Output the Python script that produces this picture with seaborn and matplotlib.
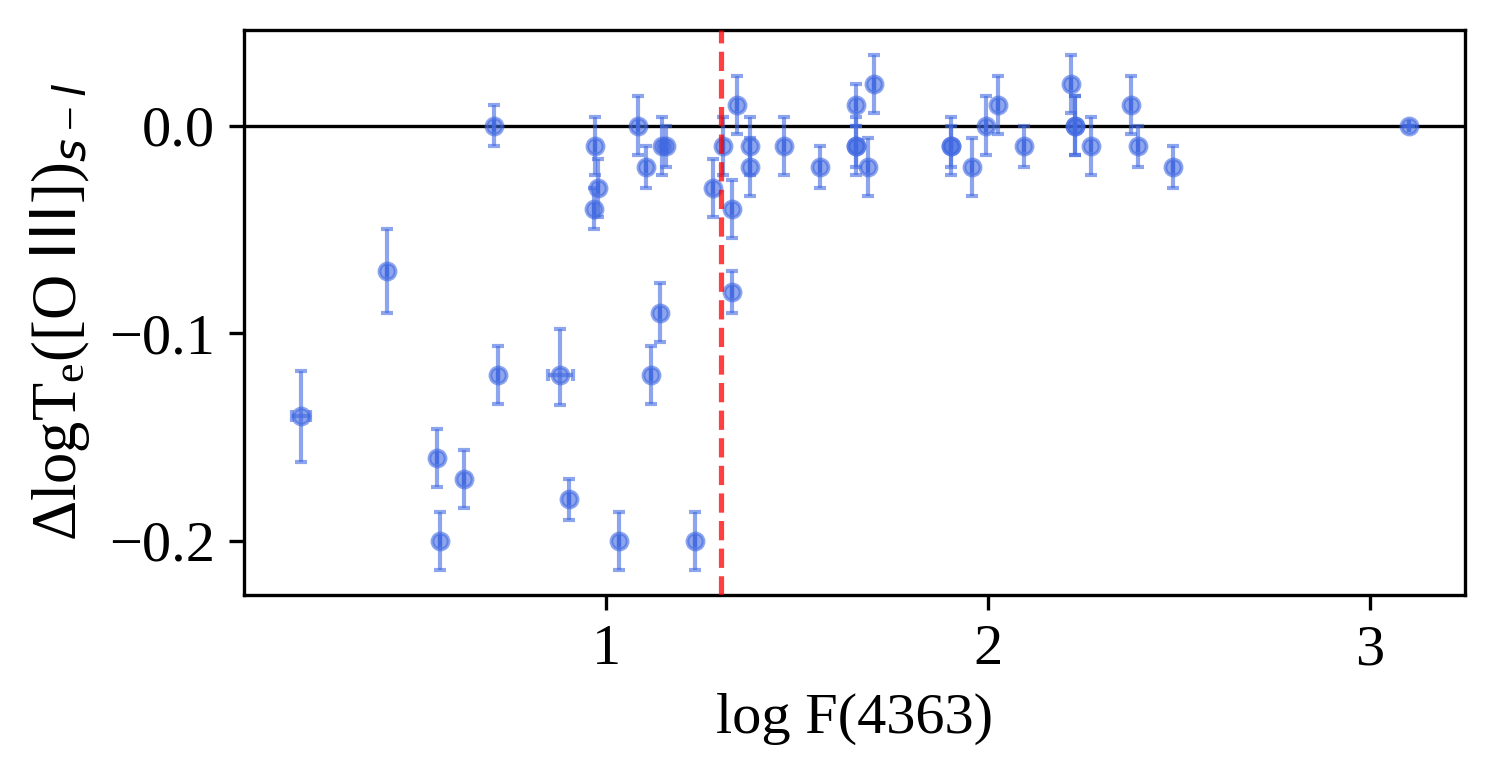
import numpy as np
import pandas as pd
import matplotlib
matplotlib.use("Agg")
import matplotlib.pyplot as plt
import seaborn as sns

# Measured points: log F(4363) vs. Delta log Te([O III]) (s - l)
log_f4363 = [0.200, 0.424, 0.557, 0.565, 0.627, 0.706, 0.716, 0.879, 0.903, 0.967,
             0.971, 0.978, 1.034, 1.082, 1.103, 1.118, 1.139, 1.146, 1.156, 1.233,
             1.278, 1.305, 1.328, 1.330, 1.342, 1.377, 1.376, 1.466, 1.559, 1.653,
             1.653, 1.654, 1.685, 1.701, 1.904, 1.904, 1.959, 1.994, 2.025, 2.093,
             2.217, 2.228, 2.228, 2.269, 2.374, 2.394, 2.486, 3.103]
delta_te = [-0.140, -0.070, -0.160, -0.200, -0.170, 0.000, -0.120, -0.120, -0.180, -0.040,
            -0.010, -0.030, -0.200, 0.000, -0.020, -0.120, -0.090, -0.010, -0.010, -0.200,
            -0.030, -0.010, -0.080, -0.040, 0.010, -0.010, -0.020, -0.010, -0.020, -0.010,
            -0.010, 0.010, -0.020, 0.020, -0.010, -0.010, -0.020, 0.000, 0.010, -0.010,
            0.020, 0.000, 0.000, -0.010, 0.010, -0.010, -0.020, 0.000]
err_lo = [0.022, 0.020, 0.014, 0.014, 0.014, 0.010, 0.014, 0.0145, 0.010, 0.010,
          0.014, 0.014, 0.014, 0.014, 0.010, 0.014, 0.014, 0.014, 0.010, 0.014,
          0.014, 0.014, 0.010, 0.014, 0.014, 0.014, 0.014, 0.014, 0.010, 0.014,
          0.010, 0.010, 0.014, 0.014, 0.014, 0.010, 0.014, 0.014, 0.014, 0.010,
          0.014, 0.014, 0.014, 0.014, 0.014, 0.010, 0.010, 0.000]
err_hi = [0.022, 0.020, 0.014, 0.014, 0.014, 0.010, 0.014, 0.022, 0.010, 0.010,
          0.014, 0.014, 0.014, 0.014, 0.010, 0.014, 0.014, 0.014, 0.010, 0.014,
          0.014, 0.014, 0.010, 0.014, 0.014, 0.014, 0.014, 0.014, 0.010, 0.014,
          0.010, 0.010, 0.014, 0.014, 0.014, 0.010, 0.014, 0.014, 0.014, 0.010,
          0.014, 0.014, 0.014, 0.014, 0.014, 0.010, 0.010, 0.000]
xerr = [0.024, 0, 0, 0, 0, 0, 0, 0.032, 0, 0,
        0, 0, 0, 0, 0, 0, 0, 0, 0, 0,
        0, 0, 0, 0, 0, 0, 0, 0, 0, 0,
        0, 0, 0, 0, 0, 0, 0, 0, 0, 0,
        0, 0, 0, 0, 0, 0, 0, 0]

THRESHOLD = np.log10(20)
POINT_COLOR = "royalblue"

df = pd.DataFrame({"logF": log_f4363, "dTe": delta_te})

sns.set_style("ticks", {"axes.edgecolor": "black", "text.color": "black",
                        "axes.labelcolor": "black", "xtick.color": "black",
                        "ytick.color": "black"})
plt.rcParams["font.family"] = ["Liberation Serif", "DejaVu Serif"]
plt.rcParams["mathtext.fontset"] = "custom"
plt.rcParams["mathtext.rm"] = "Liberation Serif"
plt.rcParams["mathtext.it"] = "DejaVu Sans:italic"
plt.rcParams["mathtext.sf"] = "DejaVu Sans"
plt.rcParams["axes.linewidth"] = 0.8

fig, ax = plt.subplots(figsize=(4.98, 2.6), dpi=300)
fig.subplots_adjust(left=0.1633, right=0.9806, top=0.9615, bottom=0.2372)

ax.errorbar(df["logF"], df["dTe"], yerr=[err_lo, err_hi], xerr=xerr,
            fmt="none", ecolor=POINT_COLOR, elinewidth=1.0, capsize=1.5,
            capthick=1.0, alpha=0.6, zorder=2)
sns.scatterplot(data=df, x="logF", y="dTe", ax=ax, color=POINT_COLOR,
                s=15, edgecolor=POINT_COLOR, linewidth=0.9, alpha=0.6, zorder=3)

ax.axhline(0, color="black", lw=0.8, zorder=1)
ax.axvline(THRESHOLD, color="red", ls="--", lw=1.25, alpha=0.75, zorder=4)

ax.set_xlim(0.05, 3.25)
ax.set_ylim(-0.226, 0.046)
ax.set_xticks([1, 2, 3])
ax.set_yticks([-0.2, -0.1, 0.0])
ax.set_yticklabels(["\u22120.2", "\u22120.1", "0.0"])
ax.tick_params(labelsize=14, width=0.8, length=3.5, colors="black")

ax.set_xlabel("log F(4363)", fontsize=14)
ax.set_ylabel(r"$\Delta\mathrm{logT_e}$([O $\mathsf{III}$])$_{s-l}$", fontsize=15)

fig.savefig("out.png", dpi=300)
